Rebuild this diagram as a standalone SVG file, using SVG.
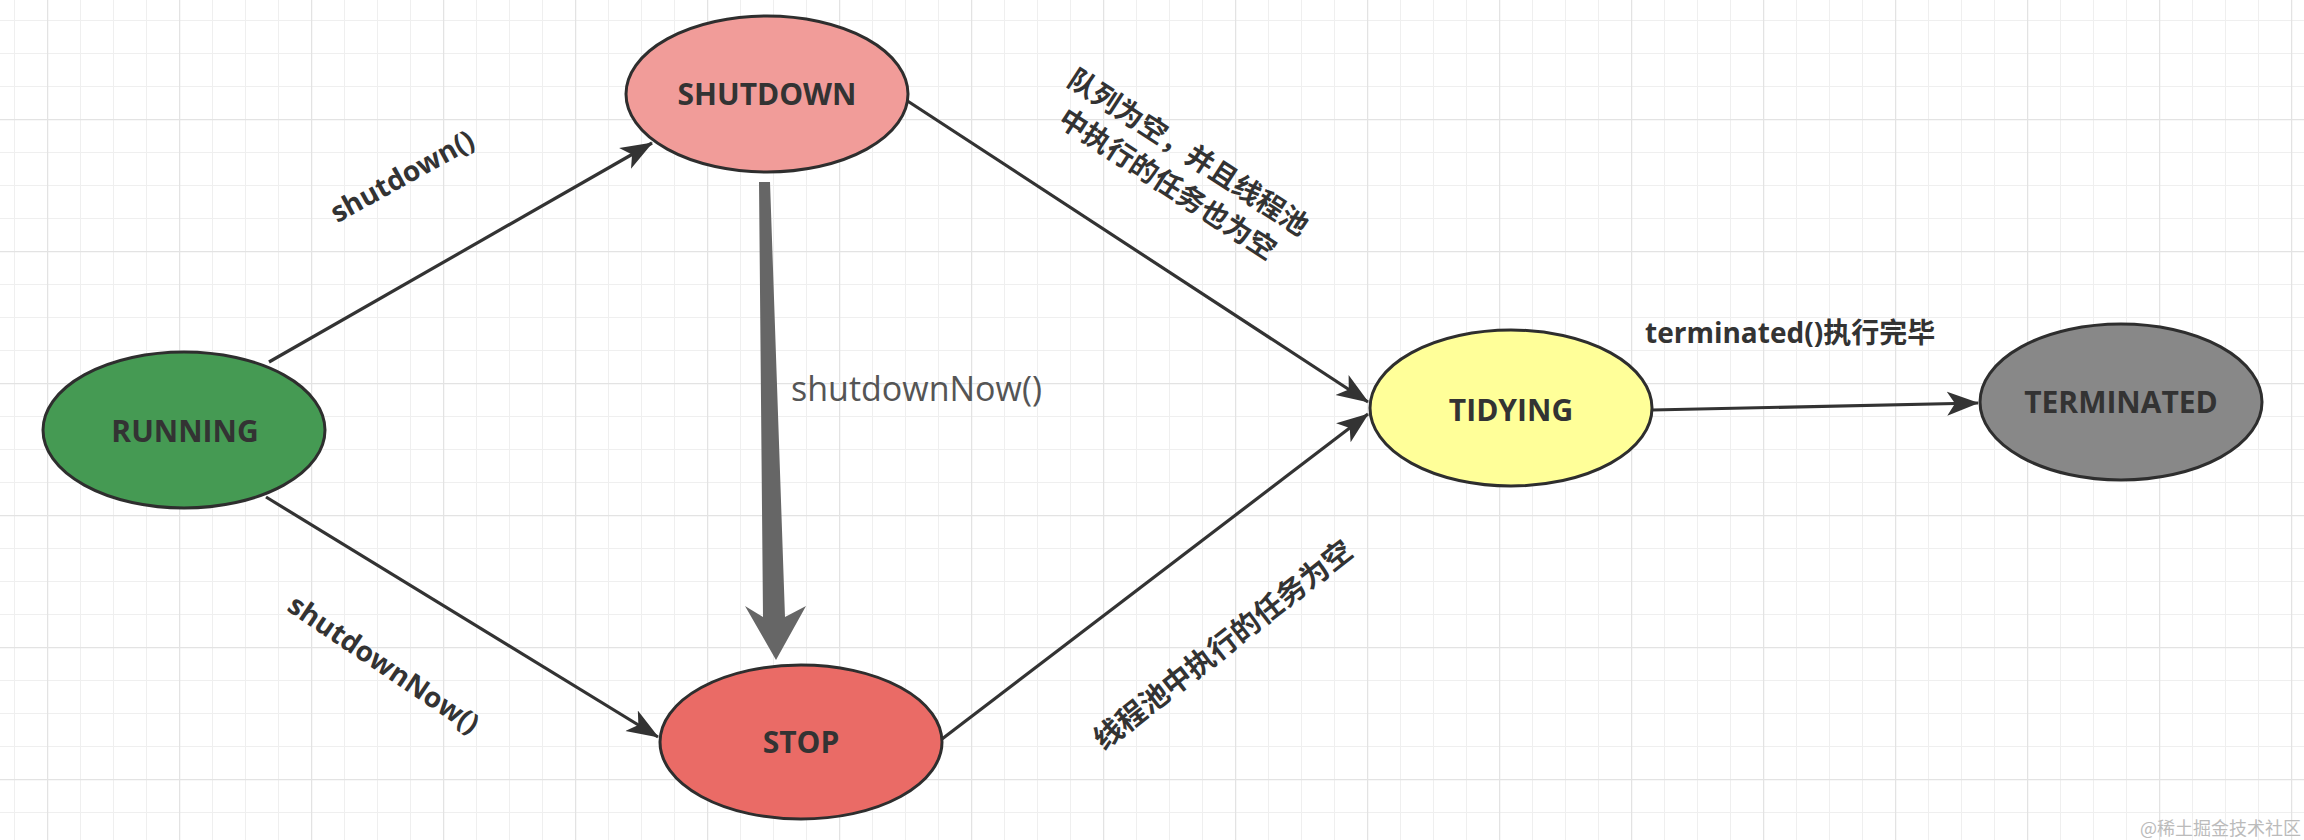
<svg xmlns="http://www.w3.org/2000/svg" width="2304" height="840" viewBox="0 0 2304 840">
  <style>
    .node { stroke: #2e2e2e; stroke-width: 3; }
    .nlabel { font-family: "Open Sans", "Noto Sans", "Liberation Sans", sans-serif; font-weight: bold; font-size: 30px; fill: #333333; text-anchor: middle; }
    .edge { stroke: #333333; stroke-width: 3.2; fill: none; }
    .elabel { font-family: "Open Sans", "Noto Sans", "Noto Sans CJK SC", sans-serif; font-weight: bold; font-size: 28px; fill: #333333; }
    .cjk { font-family: "Noto Sans CJK SC", "Noto Sans", sans-serif; font-weight: bold; fill: #333333; text-anchor: middle; }
  </style>
  <defs>
    <pattern id="minor" patternUnits="userSpaceOnUse" x="14" y="20" width="33" height="33">
      <path d="M 0 0 L 33 0 M 0 0 L 0 33" stroke="#efefef" stroke-width="2" fill="none"/>
    </pattern>
    <pattern id="major" patternUnits="userSpaceOnUse" x="47" y="119" width="132" height="132">
      <path d="M 0 0 L 132 0 M 0 0 L 0 132" stroke="#e3e3e3" stroke-width="2.5" fill="none"/>
    </pattern>
    <marker id="arrow" markerUnits="userSpaceOnUse" viewBox="0 0 32 26" refX="31" refY="13" markerWidth="32" markerHeight="26" orient="auto">
      <path d="M0,1 L32,13 L0,25 L8,13 Z" fill="#333333"/>
    </marker>
  </defs>

  <rect x="0" y="0" width="2304" height="840" fill="#ffffff"/>
  <rect x="0" y="0" width="2304" height="840" fill="url(#minor)"/>
  <rect x="0" y="0" width="2304" height="840" fill="url(#major)"/>

  <g id="connectors">
    <line class="edge" x1="269" y1="362" x2="652" y2="143" marker-end="url(#arrow)"/>
    <line class="edge" x1="266" y1="497" x2="658" y2="737" marker-end="url(#arrow)"/>
    <line class="edge" x1="906" y1="100" x2="1368" y2="402" marker-end="url(#arrow)"/>
    <line class="edge" x1="942" y1="739" x2="1368" y2="414" marker-end="url(#arrow)"/>
    <line class="edge" x1="1652" y1="410" x2="1978" y2="403" marker-end="url(#arrow)"/>
    <path d="M759,182 L770,182 L785,617 L806,606 L776,660 L745,606 L763,617 Z" fill="#666666"/>

    <text class="elabel" font-size="30" text-anchor="middle" transform="translate(402,176) rotate(-29)" y="10">shutdown()</text>
    <text class="elabel" text-anchor="middle" transform="translate(384,664) rotate(34)" y="10">shutdownNow()</text>
    <text x="791" y="401" font-family="Open Sans, Noto Sans, Liberation Sans, sans-serif" font-size="34" fill="#555555">shutdownNow()</text>
    <g transform="translate(1178,168) rotate(33)">
      <text class="cjk" font-size="28" x="0" y="-9">队列为空，并且线程池</text>
      <text class="cjk" font-size="28" x="0" y="29">中执行的任务也为空</text>
    </g>
    <text class="cjk" font-size="29" transform="translate(1223,645) rotate(-38)" y="10">线程池中执行的任务为空</text>
    <text class="elabel" font-size="29" x="1645" y="343">terminated()执行完毕</text>
  </g>

  <g id="node-running">
    <ellipse class="node" cx="184" cy="430" rx="141" ry="78" fill="#459a53"/>
    <text class="nlabel" x="185" y="442">RUNNING</text>
  </g>
  <g id="node-shutdown">
    <ellipse class="node" cx="767" cy="94" rx="141" ry="78" fill="#f19c99"/>
    <text class="nlabel" x="767" y="105">SHUTDOWN</text>
  </g>
  <g id="node-stop">
    <ellipse class="node" cx="801" cy="742" rx="141" ry="77" fill="#ea6b66"/>
    <text class="nlabel" x="801" y="753">STOP</text>
  </g>
  <g id="node-tidying">
    <ellipse class="node" cx="1511" cy="408" rx="141" ry="78" fill="#ffff99"/>
    <text class="nlabel" x="1511" y="421">TIDYING</text>
  </g>
  <g id="node-terminated">
    <ellipse class="node" cx="2121" cy="402" rx="141" ry="78" fill="#888888"/>
    <text class="nlabel" x="2121" y="413">TERMINATED</text>
  </g>

  <text x="2140" y="835" font-family="Noto Sans CJK SC, sans-serif" font-size="18" fill="#bbbbbb">@稀土掘金技术社区</text>
</svg>
